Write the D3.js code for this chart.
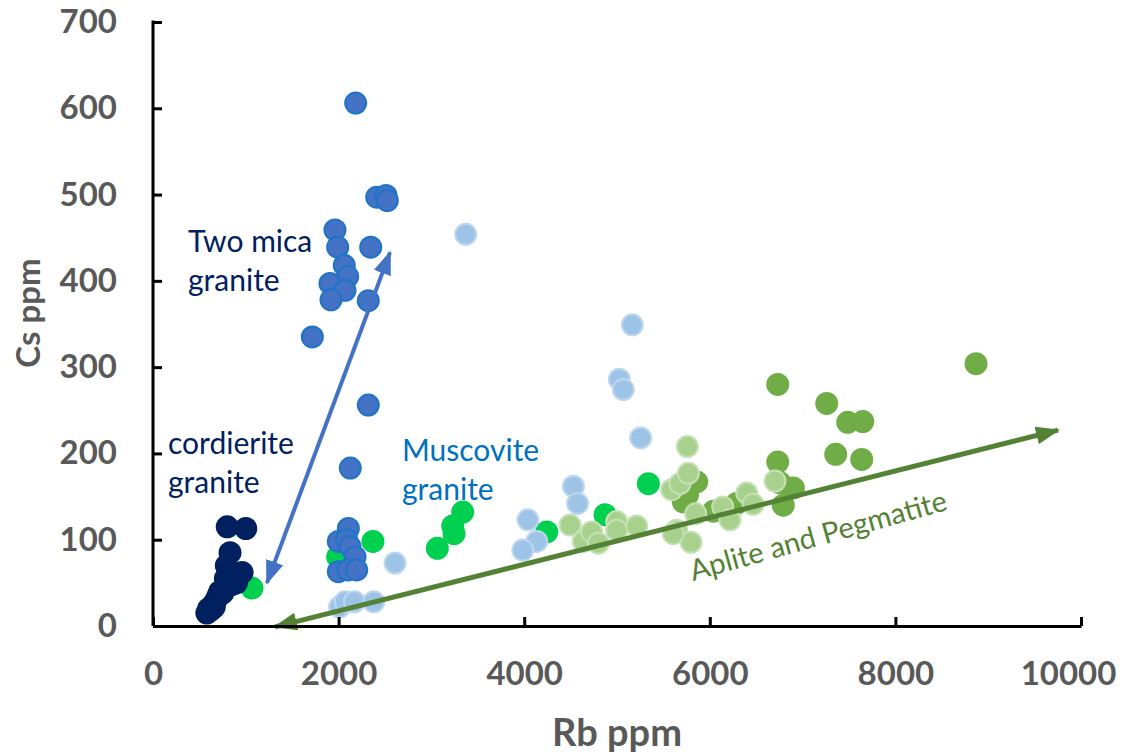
<!DOCTYPE html>
<html>
<head>
<meta charset="utf-8">
<script src="https://cdn.jsdelivr.net/npm/d3@7"></script>
<style>
  body { margin: 0; background: #fff; }
  svg { display: block; }
</style>
</head>
<body>
<div id="chart"></div>
<script>
// data: [Rb ppm, Cs ppm]
var brightGreen = [[1067,44],[1990,80],[2370,98],[3337,132],[3230,116],[3244,107],[3064,90],
  [4243,109],[4871,129],[5338,165]];
var mediumGreen = [[6732,280],[7260,258],[7486,236],[7648,237],[6732,190],[7357,199],[7637,193],
  [6792,140],[6900,160],[6757,166],[5859,167],[5714,144],[6290,142],[8869,304],[5760,152],[6040,133]];
var lightGreen = [[4494,117],[4637,98],[4728,109],[4799,96],[4997,121],[4997,111],[5212,116],
  [5589,158],[5679,165],[5758,208],[5769,177],[5848,130],[5643,111],[5798,97],[5606,107],
  [6139,138],[6218,123],[6398,154],[6466,141],[6703,168]];
var twoMica = [[2184,606],[2411,497],[2511,499],[2525,493],[1961,459],[1990,439],[2346,439],
  [2061,418],[2098,405],[1907,397],[2069,389],[1918,378],[2320,377],[1717,335],[2320,256],
  [2126,183],[2105,113],[1997,98],[2087,100],[2123,92],[2177,80],[1997,63],[2101,65],[2195,65]];
var cordierite = [[800,115],[1000,113],[830,85],[790,70],[960,62],[810,65],[780,55],[850,48],
  [720,40],[700,35],[680,30],[650,25],[600,20],[580,15],[620,18],[660,22],[750,38],[900,50]];
var muscovite = [[3370,454],[5165,349],[5025,286],[5068,274],[5255,218],[4530,162],[4575,142],
  [4040,123],[4135,98],[3985,88],[2608,73],[2010,22],[2070,28],[2170,28],[2380,28]];

var xTicks = [0, 2000, 4000, 6000, 8000, 10000];
var yTicks = [0, 100, 200, 300, 400, 500, 600, 700];

// trend arrows, data units
var micaArrow = [[1228,50],[2554,433]];
var apliteArrow = [[1315,-1],[9752,227]];

var svgWidth = 1135;
var svgHeight = 754;

var svg = d3.select("#chart")
  .append("svg")
  .attr("width", svgWidth)
  .attr("height", svgHeight)
  .style("font-family", "Lato, 'Open Sans', sans-serif");

var x = d3.scaleLinear().domain([0, 10000]).range([153, 1081]);
var y = d3.scaleLinear().domain([0, 700]).range([626, 22]);

var gray = "#595959";

// arrow heads
var defs = svg.append("defs");
function addHead(id, color, len, wid) {
  defs.append("marker")
    .attr("id", id)
    .attr("viewBox", `0 0 ${len} ${wid}`)
    .attr("refX", len - 2).attr("refY", wid / 2)
    .attr("markerUnits", "userSpaceOnUse")
    .attr("markerWidth", len).attr("markerHeight", wid)
    .attr("orient", "auto-start-reverse")
    .append("path")
    .attr("d", `M0,0L${len},${wid / 2}L0,${wid}Z`)
    .attr("fill", color);
}
addHead("headBlue", "#4472C4", 24, 18);
addHead("headGreen", "#548235", 24, 18);

// points
var series = [
  {data: brightGreen, fill: "#00D050", stroke: "#00D050"},
  {data: mediumGreen, fill: "#70AD47", stroke: "#70AD47"},
  {data: lightGreen, fill: "#A9D18E", stroke: "#C5E0B4"},
  {data: twoMica, fill: "#4472C4", stroke: "#1F74C8"},
  {data: cordierite, fill: "#002060", stroke: "#002060"},
  {data: muscovite, fill: "#9DC3E6", stroke: "#BDD7EE"}
];

series.forEach(function(s) {
  svg.append("g").selectAll("circle")
    .data(s.data)
    .enter()
    .append("circle")
    .attr("cx", d => x(d[0]))
    .attr("cy", d => y(d[1]))
    .attr("r", 10.5)
    .attr("fill", s.fill)
    .attr("stroke", s.stroke)
    .attr("stroke-width", 2);
});

// arrows
svg.append("line")
  .attr("x1", x(micaArrow[0][0])).attr("y1", y(micaArrow[0][1]))
  .attr("x2", x(micaArrow[1][0])).attr("y2", y(micaArrow[1][1]))
  .attr("stroke", "#4472C4").attr("stroke-width", 4)
  .attr("marker-start", "url(#headBlue)")
  .attr("marker-end", "url(#headBlue)");

svg.append("line")
  .attr("x1", x(apliteArrow[0][0])).attr("y1", y(apliteArrow[0][1]))
  .attr("x2", x(apliteArrow[1][0])).attr("y2", y(apliteArrow[1][1]))
  .attr("stroke", "#548235").attr("stroke-width", 5)
  .attr("marker-start", "url(#headGreen)")
  .attr("marker-end", "url(#headGreen)");

// axes, ticks point inward
var xAxis = svg.append("g")
  .attr("transform", `translate(0, ${y(0)})`)
  .call(d3.axisBottom(x).tickValues(xTicks).tickFormat(d3.format("d"))
    .tickSizeInner(-9).tickSizeOuter(0).tickPadding(36));

var yAxis = svg.append("g")
  .attr("transform", `translate(${x(0)}, 0)`)
  .call(d3.axisLeft(y).tickValues(yTicks).tickFormat(d3.format("d"))
    .tickSizeInner(-9).tickSizeOuter(0).tickPadding(36));

[xAxis, yAxis].forEach(function(a) {
  a.select(".domain").attr("stroke", "#000").attr("stroke-width", 3);
  a.selectAll(".tick line").attr("stroke", "#000").attr("stroke-width", 3);
  a.selectAll(".tick text")
    .attr("fill", gray)
    .style("font-size", "33px")
    .style("font-weight", "bold")
    .style("font-family", "Lato, sans-serif");
});
xAxis.selectAll(".tick text").filter(d => d === 10000).attr("dx", -13);
yAxis.select(".domain").attr("d", `M0,${y(0)}V${y(700) - 1.5}`);

// axis titles
svg.append("text")
  .attr("transform", "translate(40, 313) rotate(-90)")
  .attr("text-anchor", "middle")
  .attr("fill", gray)
  .style("font-size", "33px")
  .style("font-weight", "bold")
  .text("Cs ppm");

svg.append("text")
  .attr("x", 617).attr("y", 746)
  .attr("text-anchor", "middle")
  .attr("fill", gray)
  .style("font-size", "38px")
  .style("font-weight", "bold")
  .text("Rb ppm");

// annotations
function note(lines, px, py, color) {
  var t = svg.append("text")
    .attr("fill", color)
    .style("font-size", "30px");
  lines.forEach(function(l, i) {
    t.append("tspan").attr("x", px).attr("y", py + i * 39).text(l);
  });
}
note(["Two mica", "granite"], 188, 252, "#002060");
note(["cordierite", "granite"], 168, 454, "#002060");
note(["Muscovite", "granite"], 402, 461, "#0070C0");

svg.append("text")
  .attr("transform", "translate(693, 581) rotate(-15.6)")
  .attr("fill", "#548235")
  .style("font-size", "29px")
  .text("Aplite and Pegmatite");
</script>
</body>
</html>
